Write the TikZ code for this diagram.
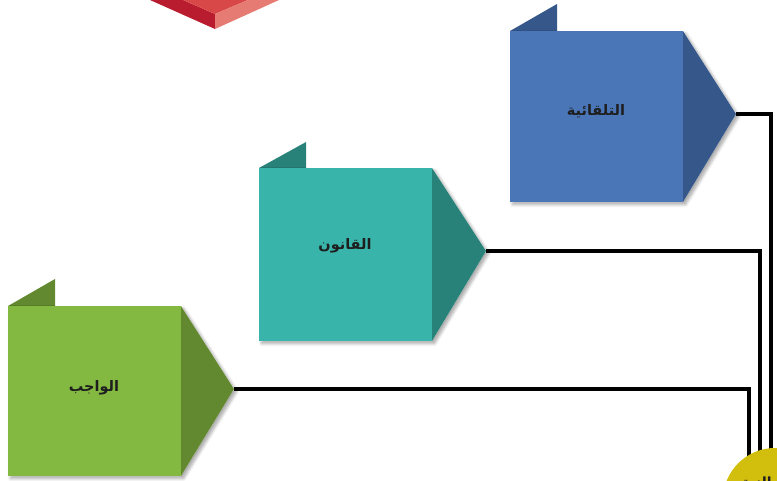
\documentclass[tikz,border=0pt]{standalone}
\usepackage{fontspec}
\newfontfamily\arabicfont[Script=Arabic]{DejaVu Sans}
\TeXXeTstate=1
\usetikzlibrary{shadows.blur}
\definecolor{redleft}{HTML}{B81C2E}
\definecolor{redtop}{HTML}{D94848}
\definecolor{redright}{HTML}{E57B72}
\definecolor{bluemain}{HTML}{4A76B8}
\definecolor{bluedark}{HTML}{36578A}
\definecolor{tealmain}{HTML}{38B4AA}
\definecolor{tealdark}{HTML}{28827A}
\definecolor{greenmain}{HTML}{83B941}
\definecolor{greendark}{HTML}{628930}
\definecolor{hubyellow}{HTML}{D2BE0C}
\definecolor{txtdark}{HTML}{1E1E1E}
\tikzset{
  conn/.style={draw=black, line width=4.2pt, line join=miter},
  lbl/.style={font=\arabicfont\bfseries\fontsize{14.5}{16}\selectfont, text=txtdark, inner sep=0pt},
  shade/.style={fill=white, blur shadow={shadow xshift=2.5pt, shadow yshift=-2.5pt, shadow blur steps=6, shadow opacity=35, shadow blur radius=3pt}},
}
\begin{document}
\begin{tikzpicture}[x=1pt,y=-1pt]
\useasboundingbox (0,0) rectangle (777,480);
\clip (0,0) rectangle (777,480);

% red plate at top
\fill[redleft] (150,0) -- (183,0) -- (215,14) -- (215,29) -- cycle;
\fill[redtop] (183,0) -- (248,0) -- (215,14) -- cycle;
\fill[redright] (215,14) -- (248,0) -- (279,0) -- (215,29) -- cycle;

% connector coordinates
\coordinate (btip) at (736,114);
\coordinate (bturn) at (771,114);
\coordinate (bend) at (771,475);
\coordinate (ttip) at (486,251);
\coordinate (tturn) at (760,251);
\coordinate (tend) at (760,475);
\coordinate (gtip) at (234,389);
\coordinate (gturn) at (749,389);
\coordinate (gend) at (749,475);

% blue box
\fill[bluedark] (510,31) -- (557,4) -- (557,31) -- cycle;
\path[shade] (510,31) -- (683,31) -- (btip) -- (683,202) -- (510,202) -- cycle;
\fill[bluemain] (510,31) rectangle (683,202);
\fill[bluedark] (683,31) -- (btip) -- (683,202) -- cycle;
\node[lbl] (blbl) at (596,111) {\beginR التلقائية\endR};

% teal box
\fill[tealdark] (259,168) -- (306,142) -- (306,168) -- cycle;
\path[shade] (259,168) -- (432,168) -- (ttip) -- (432,341) -- (259,341) -- cycle;
\fill[tealmain] (259,168) rectangle (432,341);
\fill[tealdark] (432,168) -- (ttip) -- (432,341) -- cycle;
\node[lbl] (tlbl) at (345,246) {\beginR القانون\endR};

% green box
\fill[greendark] (8,306) -- (55,279) -- (55,306) -- cycle;
\path[shade] (8,306) -- (181,306) -- (gtip) -- (181,476) -- (8,476) -- cycle;
\fill[greenmain] (8,306) rectangle (181,476);
\fill[greendark] (181,306) -- (gtip) -- (181,476) -- cycle;
\node[lbl] (glbl) at (94,388) {\beginR الواجب\endR};

% connectors
\draw[conn] (btip) -- (bturn) -- (bend);
\draw[conn] (ttip) -- (tturn) -- (tend);
\draw[conn] (gtip) -- (gturn) -- (gend);

% hub circle
\node[circle, fill=hubyellow, minimum size=104pt, inner sep=0pt] (hub) at (775,500) {};
\node[lbl, font=\arabicfont\bfseries\fontsize{14}{16}\selectfont, anchor=base east] (hublbl) at (772,487) {\beginR النية\endR};
\end{tikzpicture}
\end{document}
